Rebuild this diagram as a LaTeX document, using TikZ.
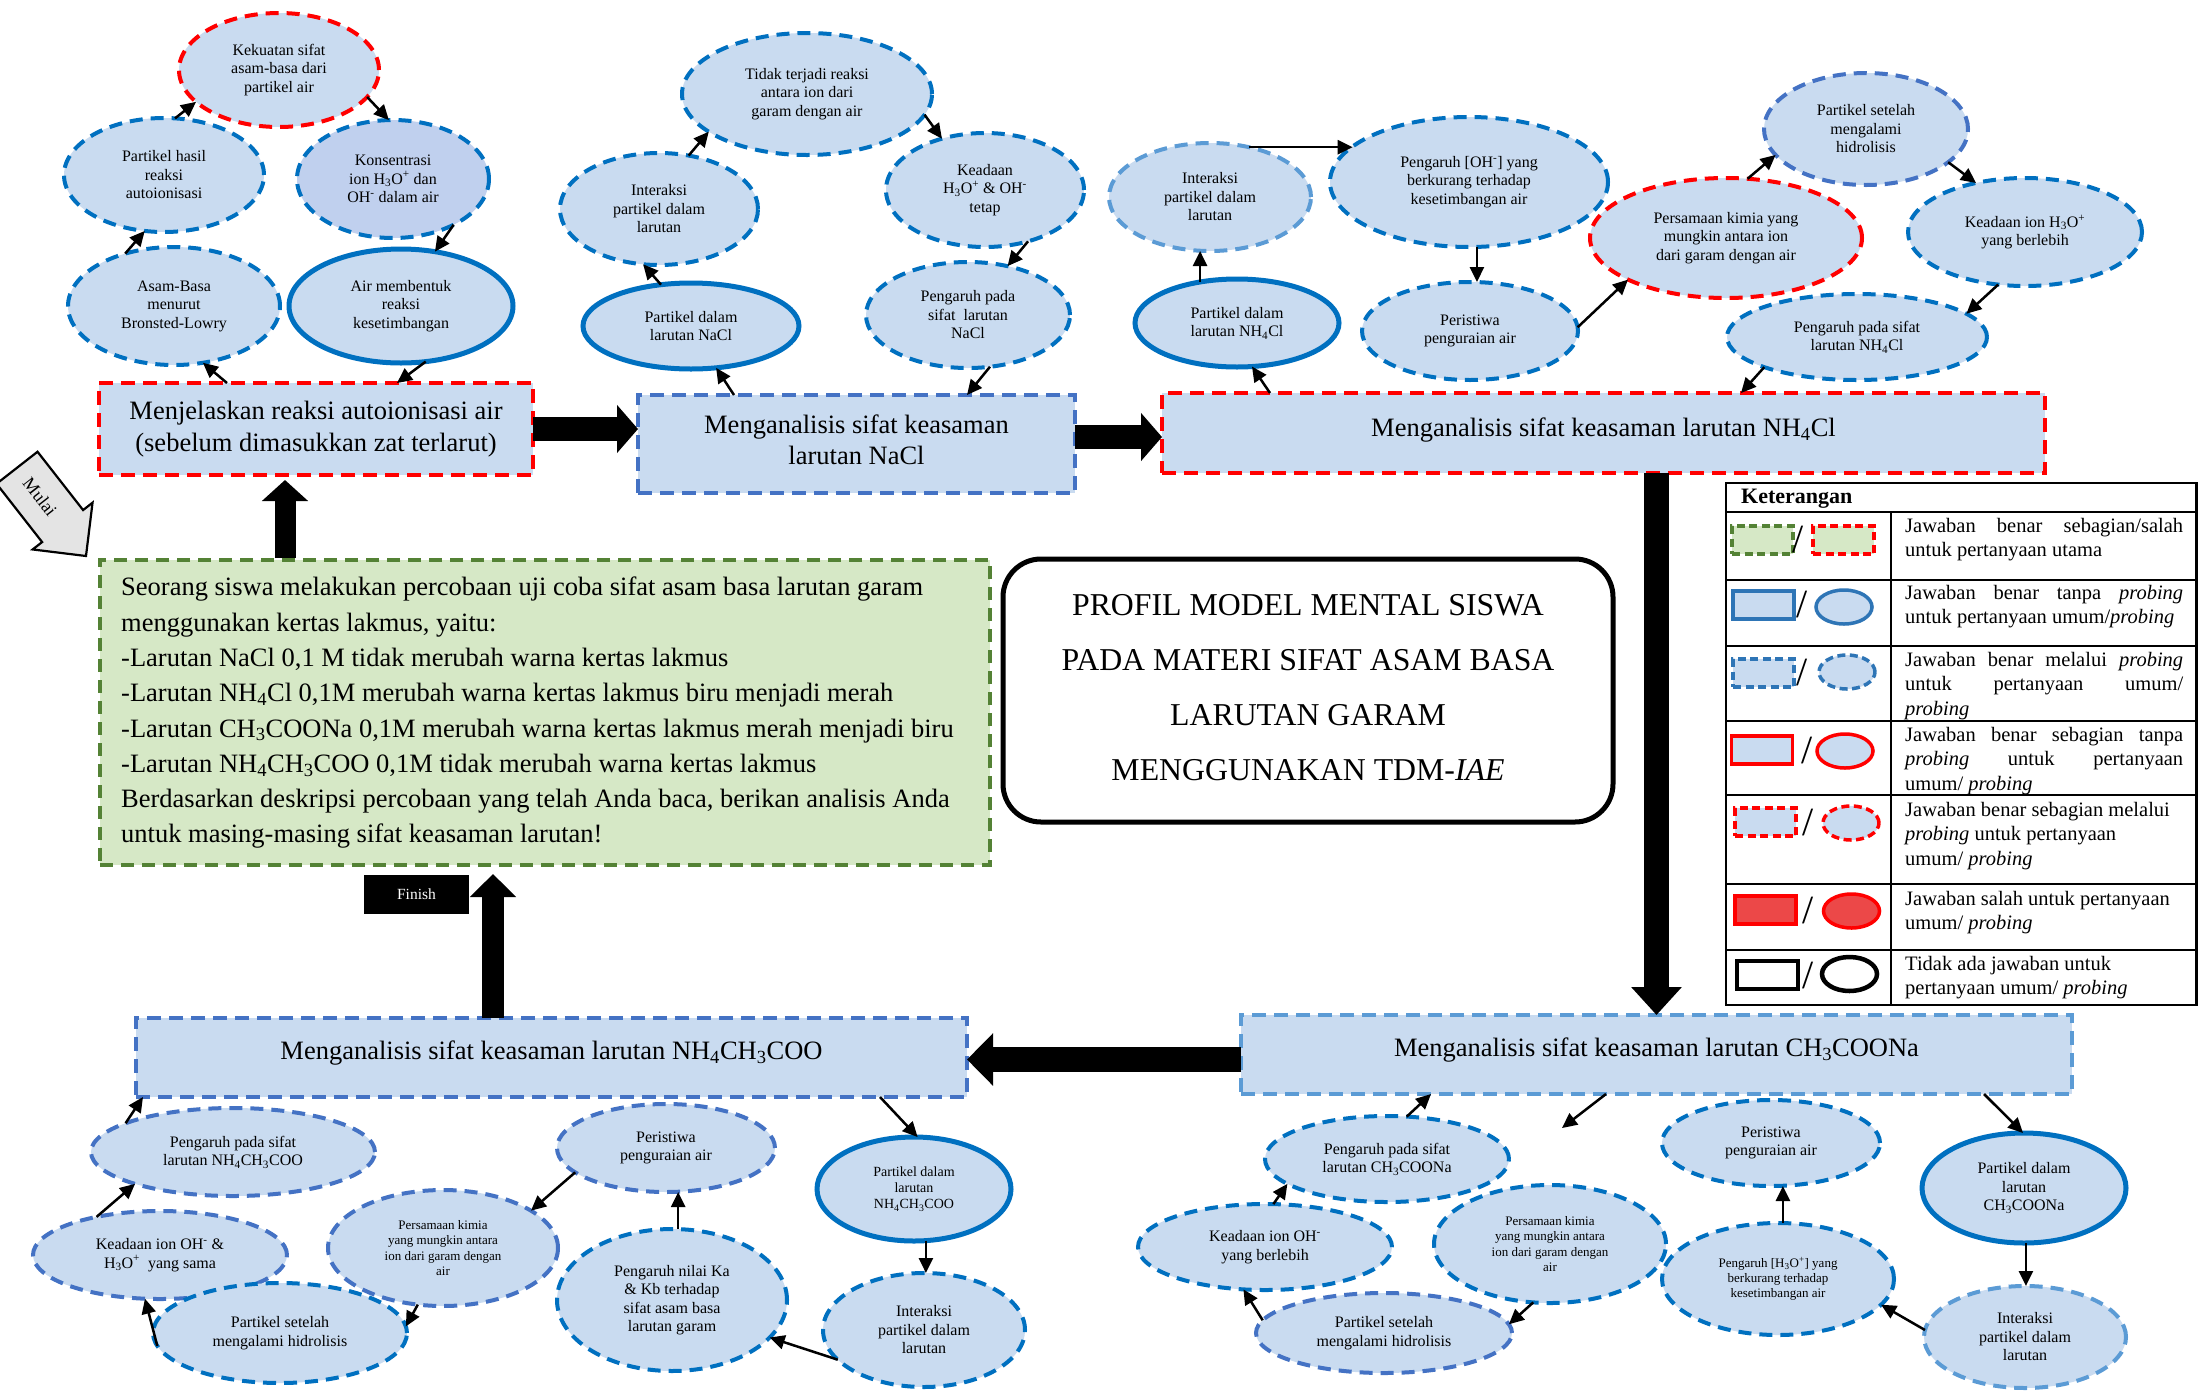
\documentclass[tikz,border=0pt]{standalone}
\usepackage{fontspec}
\setmainfont{Liberation Serif}
\usetikzlibrary{shapes.geometric,arrows.meta,calc}

\definecolor{efill}{RGB}{201,219,240}
\definecolor{kfill}{RGB}{192,208,238}
\definecolor{gfill}{RGB}{214,232,198}
\definecolor{bA}{RGB}{0,112,192}
\definecolor{bB}{RGB}{68,114,196}
\definecolor{bC}{RGB}{91,155,213}
\definecolor{bL}{RGB}{46,117,182}
\definecolor{rA}{RGB}{255,0,0}
\definecolor{gA}{RGB}{84,130,53}
\definecolor{rfill}{RGB}{236,72,72}
\definecolor{mgray}{RGB}{228,228,228}

\newcommand{\fEll}{\fontsize{16}{18.5}\selectfont}
\newcommand{\fSm}{\fontsize{13}{15.2}\selectfont}
\newcommand{\fMid}{\fontsize{14}{16.2}\selectfont}
\newcommand{\fBig}{\fontsize{26.5}{31.5}\selectfont}
\newcommand{\fQ}{\fontsize{26.5}{35.3}\selectfont}
\newcommand{\fTitle}{\fontsize{31.8}{55}\selectfont}
\newcommand{\fLeg}{\fontsize{20.5}{24.5}\selectfont}
\newcommand{\sbs}[1]{\textsubscript{#1}}
\newcommand{\sps}[1]{\textsuperscript{#1}}
\hyphenpenalty=10000
\exhyphenpenalty=10000

\tikzset{
  dims/.style 2 args={minimum width=#1pt, minimum height=#2pt},
  ebase/.style={ellipse, fill=efill, inner sep=0pt, outer sep=0pt, align=center, font=\fEll, text=black},
  edash/.style={ebase, draw=bA, line width=4pt, dash pattern=on 13pt off 8pt},
  edashB/.style={edash, draw=bB},
  edashC/.style={edash, draw=bC},
  edashR/.style={edash, draw=rA},
  esolid/.style={ebase, draw=bA, line width=5pt},
  boxbase/.style={rectangle, fill=efill, inner sep=0pt, outer sep=0pt, align=center, font=\fBig, line width=4pt, dash pattern=on 14pt off 8pt},
  boxR/.style={boxbase, draw=rA},
  boxB/.style={boxbase, draw=bB},
  boxC/.style={boxbase, draw=bC},
  link/.style={draw=black, line width=2.5pt, -{Triangle[length=15pt,width=14pt]}},
  bigarrow/.style={draw=black, line width=24pt, -{Triangle[length=21pt,width=47pt]}},
  lgR/.style={rectangle, inner sep=0pt, minimum width=61pt, minimum height=28pt, line width=3.5pt, fill=efill},
  lgE/.style={ellipse, inner sep=0pt, minimum width=56pt, minimum height=34pt, line width=3.5pt, fill=efill},
  lgD/.style={dash pattern=on 8pt off 4.5pt},
  slashmark/.style={inner sep=0pt, font=\fontsize{40}{40}\selectfont},
  legtxt/.style={anchor=north west, inner sep=0pt, text width=278pt, align=justify, font=\fLeg},
}

\begin{document}
\begin{tikzpicture}[x=1pt,y=-1pt]
\useasboundingbox (0,0) rectangle (2198,1390);
\fill[white] (0,0) rectangle (2198,1390);

% ---------- autoionisation of water ----------
\node[edashR, dims={200}{114}] (kek) at (279,70) {Kekuatan sifat\\asam-basa dari\\partikel air};
\node[edash, dims={200}{114}] (phr) at (164,175) {Partikel hasil\\reaksi\\autoionisasi};
\node[edash, fill=kfill, dims={192}{118}] (kon) at (393,179) {Konsentrasi\\ion H\sbs{3}O\sps{+} dan\\OH\sps{-} dalam air};
\node[edash, dims={212}{118}] (abl) at (174,306) {Asam-Basa\\menurut\\Bronsted-Lowry};
\node[esolid, dims={224}{114}] (amr) at (401,306) {Air membentuk\\reaksi\\kesetimbangan};
\node[boxR, dims={434}{92}] (menj) at (316,429) {Menjelaskan reaksi autoionisasi air\\(sebelum dimasukkan zat terlarut)};

% ---------- NaCl ----------
\node[edash, dims={250}{122}] (tdk) at (807,94) {Tidak terjadi reaksi\\antara ion dari\\garam dengan air};
\node[edash, dims={198}{112}] (int1) at (659,209) {Interaksi\\partikel dalam\\larutan};
\node[edash, dims={198}{114}] (kea1) at (985,190) {Keadaan\\H\sbs{3}O\sps{+} \& OH\sps{-}\\tetap};
\node[esolid, dims={216}{86}] (pnacl) at (691,326) {Partikel dalam\\larutan NaCl};
\node[edash, dims={204}{106}] (pgn1) at (968,315) {Pengaruh pada\\sifat\ \ larutan\\NaCl};
\node[boxB, dims={437}{98}] (nacl) at (856.5,444) {};
\node[inner sep=0pt, align=center, font=\fBig] (nacltxt) at ($(nacl.center)+(0,-4)$) {Menganalisis sifat keasaman\\larutan NaCl};

% ---------- NH4Cl ----------
\node[edashC, dims={202}{108}] (int2) at (1210,197) {Interaksi\\partikel dalam\\larutan};
\node[edash, dims={278}{130}] (poh) at (1469,182) {Pengaruh [OH\sps{-}] yang\\berkurang terhadap\\kesetimbangan air};
\node[esolid, dims={204}{88}] (pnh4) at (1237,323) {Partikel dalam\\larutan NH\sbs{4}Cl};
\node[edash, dims={216}{98}] (per2) at (1470,331) {Peristiwa\\penguraian air};
\node[edashR, dims={272}{120}] (psm2) at (1726,238) {Persamaan kimia yang\\mungkin antara ion\\dari garam dengan air};
\node[edashB, dims={204}{112}] (pst2) at (1866,129) {Partikel setelah\\mengalami\\hidrolisis};
\node[edash, dims={234}{108}] (kea2) at (2025,232) {Keadaan ion H\sbs{3}O\sps{+}\\yang berlebih};
\node[edash, dims={260}{86}] (pgn2) at (1857,337) {Pengaruh pada sifat\\larutan NH\sbs{4}Cl};
\node[boxR, dims={883}{80}] (nh4cl) at (1603.5,433) {\raisebox{11pt}{Menganalisis sifat keasaman larutan NH\sbs{4}Cl}};

% ---------- NH4CH3COO ----------
\node[boxB, dims={831}{79}] (nhac) at (551.5,1057.5) {\raisebox{14pt}{Menganalisis sifat keasaman larutan NH\sbs{4}CH\sbs{3}COO}};
\node[edashB, dims={284}{88}] (pgn4) at (233,1152) {Pengaruh pada sifat\\larutan NH\sbs{4}CH\sbs{3}COO};
\node[edashB, dims={254}{88}] (kea4) at (160,1255) {Keadaan ion OH\sps{-} \&\\H\sbs{3}O\sps{+}\ \ yang sama};
\node[edash, dims={254}{100}] (pst4) at (280,1333) {Partikel setelah\\mengalami hidrolisis};
\node[edashB, font=\fSm, dims={230}{116}] (psm4) at (443,1248) {Persamaan kimia\\yang mungkin antara\\ion dari garam dengan\\air};
\node[edashB, dims={218}{88}] (per4) at (666,1148) {Peristiwa\\penguraian air};
\node[edash, dims={230}{142}] (pka) at (672,1300) {Pengaruh nilai Ka\\\& Kb terhadap\\sifat asam basa\\larutan garam};
\node[esolid, font=\fMid, dims={194}{104}] (pnhac) at (914,1189) {Partikel dalam\\larutan\\NH\sbs{4}CH\sbs{3}COO};
\node[edash, dims={202}{114}] (int4) at (924,1330) {Interaksi\\partikel dalam\\larutan};

% ---------- CH3COONa ----------
\node[boxC, dims={831}{79}] (ch3) at (1656.5,1054.5) {\raisebox{14pt}{Menganalisis sifat keasaman larutan CH\sbs{3}COONa}};
\node[edash, dims={244}{86}] (pgn3) at (1387,1159) {Pengaruh pada sifat\\larutan CH\sbs{3}COONa};
\node[edash, dims={254}{86}] (kea3) at (1265,1247) {Keadaan ion OH\sps{-}\\yang berlebih};
\node[edashB, dims={256}{80}] (pst3) at (1384,1333) {Partikel setelah\\mengalami hidrolisis};
\node[edash, font=\fSm, dims={232}{118}] (psm3) at (1550,1244) {Persamaan kimia\\yang mungkin antara\\ion dari garam dengan\\air};
\node[edash, dims={218}{86}] (per3) at (1771,1143) {Peristiwa\\penguraian air};
\node[edash, font=\fSm, dims={232}{112}] (ph3o) at (1778,1279) {Pengaruh [H\sbs{3}O\sps{+}] yang\\berkurang terhadap\\kesetimbangan air};
\node[esolid, dims={204}{110}] (pch3) at (2024,1188) {Partikel dalam\\larutan\\CH\sbs{3}COONa};
\node[edashC, dims={202}{102}] (int3) at (2025,1337) {Interaksi\\partikel dalam\\larutan};
\coordinate (stray) at (1562,1128);

% ---------- question box ----------
\node[rectangle, fill=gfill, draw=gA, line width=4pt, dash pattern=on 13pt off 8pt, dims={890}{305}] (green) at (545,712.5) {};
\node[anchor=north west, inner sep=0pt, align=left, font=\fQ] (qtxt) at (121,577) {Seorang siswa melakukan percobaan uji coba sifat asam basa larutan garam\\
menggunakan kertas lakmus, yaitu:\\
-Larutan NaCl 0,1 M tidak merubah warna kertas lakmus\\
-Larutan NH\sbs{4}Cl 0,1M merubah warna kertas lakmus biru menjadi merah\\
-Larutan CH\sbs{3}COONa 0,1M merubah warna kertas lakmus merah menjadi biru\\
-Larutan NH\sbs{4}CH\sbs{3}COO 0,1M tidak merubah warna kertas lakmus\\
Berdasarkan deskripsi percobaan yang telah Anda baca, berikan analisis Anda\\
untuk masing-masing sifat keasaman larutan!};

% ---------- title ----------
\node[draw=black, fill=white, line width=5pt, rounded corners=38pt, dims={610}{263}, inner sep=0pt] (title) at (1308,690.5) {};
\node[inner sep=0pt, align=center, font=\fTitle] (titletxt) at ($(title.center)+(0,-3)$)
  {PROFIL MODEL MENTAL SISWA\\PADA MATERI SIFAT ASAM BASA\\LARUTAN GARAM\\MENGGUNAKAN TDM-\textit{IAE}};

% ---------- start / finish ----------
\begin{scope}[shift={(86,556)}, rotate=-52]
  \filldraw[fill=mgray, draw=black, line width=2.2pt, line join=miter]
    (0,0) -- (-38,-38) -- (-38,-26) -- (-112,-26) -- (-112,26) -- (-38,26) -- (-38,38) -- cycle;
\end{scope}
\node[rotate=-52, inner sep=0pt, font=\fontsize{18}{20}\selectfont] (mulai) at (40,497) {Mulai};
\node[fill=black, dims={105}{39}, inner sep=0pt, text=white, font=\fontsize{15.5}{18}\selectfont] (fin) at (416.5,894.5) {Finish};

% ---------- main flow arrows ----------
\draw[bigarrow] (menj.east) -- (menj.east -| nacl.west);
\draw[bigarrow] ($(nacl.east)+(0,-7)$) -- ($(nacl.east -| nh4cl.west)+(0,-7)$);
\draw[bigarrow, line width=25pt, -{Triangle[length=28pt,width=49pt]}] (ch3.north |- nh4cl.south) -- (ch3.north);
\draw[bigarrow, line width=25pt, -{Triangle[length=26pt,width=51pt]}] ($(ch3.west)+(0,5)$) -- ($(ch3.west -| nhac.east)+(0,5)$);
\coordinate (fa) at ($(nhac.north west)+(357,0)$);
\draw[bigarrow, line width=22pt, -{Triangle[length=23pt,width=45pt]}] (fa) -- ($(fa |- green.south)+(0,7)$);
\coordinate (sa) at ($(green.north west)+(187,0)$);
\draw[bigarrow, line width=21pt, -{Triangle[length=21pt,width=45pt]}] (sa) -- ($(sa |- menj.south)+(0,5)$);

% ---------- links: autoionisation ----------
\draw[link] (phr.79) -- (kek.201);
\draw[link] (kek.-17) -- (kon.94);
\draw[link] (kon.-37) -- (amr.58);
\draw[link] (abl.133) -- (phr.251);
\draw[link] ($(menj.north west)+(128,0)$) -- (abl.-63);
\draw[link] (amr.-66) -- ($(menj.north west)+(298,0)$);

% ---------- links: NaCl ----------
\draw[link] ($(nacl.north west)+(96,0)$) -- (pnacl.-59);
\draw[link] (pnacl.126) -- (int1.-106);
\draw[link] (int1.61) -- (tdk.201);
\draw[link] (tdk.-10) -- (kea1.130);
\draw[link] (kea1.-50) -- (pgn1.51);
\draw[link] (pgn1.-67) -- ($(nacl.north west)+(329,0)$);

% ---------- links: NH4Cl ----------
\draw[link] ($(nh4cl.north west)+(108,0)$) -- (pnh4.-71);
\draw[link] (pnh4.132) -- (pnh4.132 |- int2.south);
\draw[link] (int2.52) -- (int2.52 -| poh.163);
\draw[link] (poh.-83) -- (poh.-83 |- per2.north);
\draw[link] (per2.2) -- (psm2.-157);
\draw[link] (psm2.70) -- (pst2.-164);
\draw[link] (pst2.-22) -- (kea2.135);
\draw[link] (kea2.-117) -- (pgn2.12);
\draw[link] (pgn2.-162) -- ($(nh4cl.north west)+(579,0)$);

% ---------- links: NH4CH3COO ----------
\draw[link] ($(nhac.south west)+(744,0)$) -- (pnhac.86);
\draw[link] (pnhac.-77) -- (pnhac.-77 |- int4.north);
\draw[link] (int4.-161) -- (pka.-21);
\draw[link] (pka.85) -- (pka.85 |- per4.south);
\draw[link] (per4.-165) -- (psm4.23);
\draw[link] (psm4.-114) -- (pst4.3);
\draw[link] (pst4.-174) -- (kea4.-109);
\draw[link] (kea4.149) -- (pgn4.-162);
\draw[link] (pgn4.165) -- ($(nhac.south west)+(7,0)$);

% ---------- links: CH3COONa ----------
\draw[link] ($(ch3.south west)+(743,0)$) -- (pch3.91);
\draw[link] (pch3.-88) -- (pch3.-88 |- int3.north);
\draw[link] (int3.176) -- (ph3o.-14);
\draw[link] (ph3o.85) -- (ph3o.85 |- per3.south);
\draw[link] ($(ch3.south west)+(365,0)$) -- (stray);
\draw[link] (psm3.-106) -- (pst3.4);
\draw[link] (pst3.174) -- (kea3.-117);
\draw[link] (kea3.79) -- (pgn3.-166);
\draw[link] (pgn3.65) -- ($(ch3.south west)+(190,0)$);

% ---------- legend table ----------
\draw[line width=2.5pt] (1726,483) rectangle (2196.5,1005);
\foreach \yy in {512,580,646,721,795,884,950} \draw[line width=2.5pt] (1726,\yy) -- (2196.5,\yy);
\draw[line width=2.5pt] (1891,512) -- (1891,1005);
\node[anchor=west, inner sep=0pt, font=\bfseries\fontsize{22}{24}\selectfont] (ket) at (1741,499) {Keterangan};

\node[lgR, lgD, draw=gA, fill=gfill] (k1a) at (1762.5,540) {};
\node[slashmark] (k1s) at (1798,540) {/};
\node[lgR, lgD, draw=rA, fill=gfill] (k1b) at (1843.5,540) {};

\node[lgR, draw=bL] (k2a) at (1763.5,605) {};
\node[slashmark] (k2s) at (1802,605) {/};
\node[lgE, draw=bL] (k2b) at (1844,607) {};

\node[lgR, lgD, draw=bL] (k3a) at (1763.5,673) {};
\node[slashmark] (k3s) at (1802,673) {/};
\node[lgE, lgD, draw=bL] (k3b) at (1847,672) {};

\node[lgR, draw=rA] (k4a) at (1762,750) {};
\node[slashmark] (k4s) at (1807,750) {/};
\node[lgE, draw=rA] (k4b) at (1845,751) {};

\node[lgR, lgD, draw=rA] (k5a) at (1765.5,822) {};
\node[slashmark] (k5s) at (1808,822) {/};
\node[lgE, lgD, draw=rA] (k5b) at (1851,823) {};

\node[lgR, draw=rA, fill=rfill] (k6a) at (1765.5,910) {};
\node[slashmark] (k6s) at (1808,910) {/};
\node[lgE, draw=rA, fill=rfill] (k6b) at (1851.5,911) {};

\node[lgR, draw=black, fill=white, line width=4.5pt] (k7a) at (1767.5,975) {};
\node[slashmark] (k7s) at (1808,975) {/};
\node[lgE, draw=black, fill=white, line width=4.5pt, minimum width=55pt] (k7b) at (1849.5,974) {};

\node[legtxt] (lt1) at (1905,518) {Jawaban benar sebagian/salah\linebreak untuk pertanyaan utama};
\node[legtxt] (lt2) at (1905,585) {Jawaban benar tanpa \textit{probing}\linebreak untuk pertanyaan umum/\textit{probing}};
\node[legtxt] (lt3) at (1905,652) {Jawaban benar melalui \textit{probing}\linebreak untuk pertanyaan umum/\linebreak \textit{probing}};
\node[legtxt] (lt4) at (1905,727) {Jawaban benar sebagian tanpa\linebreak \textit{probing} untuk pertanyaan\linebreak umum/ \textit{probing}};
\node[legtxt] (lt5) at (1905,802) {Jawaban benar sebagian melalui\\ \textit{probing} untuk pertanyaan\\ umum/ \textit{probing}};
\node[legtxt] (lt6) at (1905,891) {Jawaban salah untuk pertanyaan\\ umum/ \textit{probing}};
\node[legtxt] (lt7) at (1905,956) {Tidak ada jawaban untuk\\ pertanyaan umum/ \textit{probing}};

\end{tikzpicture}
\end{document}
